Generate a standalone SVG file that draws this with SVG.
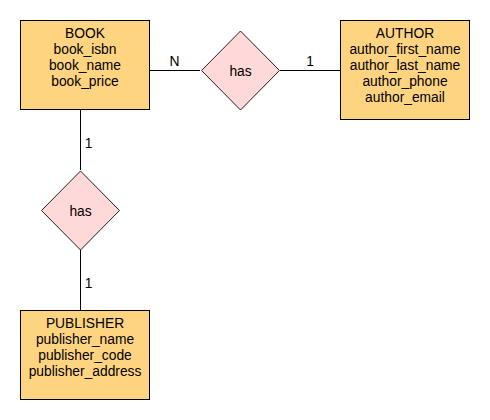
<svg xmlns="http://www.w3.org/2000/svg" width="490" height="420" viewBox="0 0 490 420">
<style>
.ent{fill:#ffd480;stroke:#000;stroke-width:1}
.rel{fill:#ffd9d9;stroke:#222;stroke-width:1}
.conn{stroke:#000;stroke-width:1;fill:none}
text{font-family:"Liberation Sans",Arial,sans-serif;font-size:13.8px;fill:#000;text-anchor:middle}
</style>
<rect width="490" height="420" fill="#fff"/>
<g id="connectors">
<line class="conn" x1="150" y1="70.5" x2="200" y2="70.5"/>
<line class="conn" x1="280" y1="70.5" x2="340" y2="70.5"/>
<line class="conn" x1="80.5" y1="110" x2="80.5" y2="170"/>
<line class="conn" x1="80.5" y1="250" x2="80.5" y2="310"/>
<text x="174.5" y="66">N</text>
<text x="310" y="66">1</text>
<text x="88.5" y="148">1</text>
<text x="88.5" y="288">1</text>
</g>
<g id="book">
<rect class="ent" x="20.5" y="20.5" width="129" height="89"/>
<text x="85" y="37.5">BOOK</text>
<text x="85" y="53.5">book_isbn</text>
<text x="85" y="69.5">book_name</text>
<text x="85" y="85.5">book_price</text>
</g>
<g id="has1">
<polygon class="rel" points="240.5,31 279.5,70.5 240.5,110 201.5,70.5"/>
<text x="240.5" y="75.5">has</text>
</g>
<g id="author">
<rect class="ent" x="340.5" y="20.5" width="129" height="99"/>
<text x="405" y="37.5">AUTHOR</text>
<text x="405" y="53.5">author_first_name</text>
<text x="405" y="69.5">author_last_name</text>
<text x="405" y="85.5">author_phone</text>
<text x="405" y="101.5">author_email</text>
</g>
<g id="has2">
<polygon class="rel" points="80.5,171 119.5,210.5 80.5,250 41.5,210.5"/>
<text x="80.5" y="215.5">has</text>
</g>
<g id="publisher">
<rect class="ent" x="20.5" y="310.5" width="129" height="89"/>
<text x="85" y="327.5">PUBLISHER</text>
<text x="85" y="343.5">publisher_name</text>
<text x="85" y="359.5">publisher_code</text>
<text x="85" y="375.5">publisher_address</text>
</g>
</svg>
